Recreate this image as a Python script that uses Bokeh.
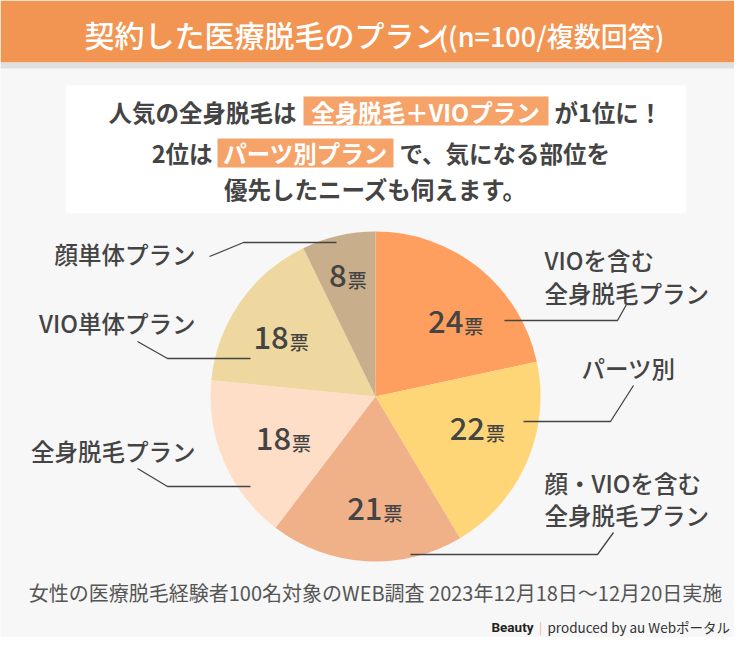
import numpy as np
from bokeh.plotting import figure
from bokeh.models import Range1d, ColumnDataSource
from bokeh.core.properties import value
from bokeh.embed import file_html
from bokeh.resources import INLINE

# ---- data ----
plans = ["VIOを含む全身脱毛プラン", "パーツ別", "顔・VIOを含む全身脱毛プラン",
         "全身脱毛プラン", "VIO単体プラン", "顔単体プラン"]
votes = [24, 22, 21, 18, 18, 8]
unit = "票"
title_main = "契約した医療脱毛のプラン"
title_sub = "((n=100/複数回答)"
note = "女性の医療脱毛経験者100名対象のWEB調査 2023年12月18日～12月20日実施"

# ---- styles ----
colors = ["#FF9F5F", "#FFD677", "#F0B088", "#FFDEC8", "#EED8A0", "#C9AE8B"]
FONT = value("Noto Sans CJK JP")
MED = value("Noto Sans CJK JP Medium")
DARK = "#444444"
W, H = 750, 653

def Y(y):
    return H - y

p = figure(width=734, height=637, x_range=Range1d(0, 734), y_range=Range1d(16, 653),
           output_backend="svg", toolbar_location=None, min_border=0)
p.axis.visible = False
p.grid.visible = False
p.outline_line_color = None
p.background_fill_color = "#F7F7F7"
p.border_fill_color = "#F7F7F7"

# header
p.quad(left=0, right=W, top=Y(0), bottom=Y(62), fill_color="#F39552", line_color=None)
p.quad(left=0, right=W, top=Y(62), bottom=Y(68), fill_color="#E2E0DE", line_color=None)
p.text(x=[84], y=[Y(33)], text=[title_main], text_font=MED,
       text_font_size="30px", text_color="white", text_align="left", text_baseline="middle")
p.text(x=[438], y=[Y(35)], text=[title_sub], text_font=MED,
       text_font_size="27px", text_color="white", text_align="left", text_baseline="middle")

# headline box
p.quad(left=65, right=686, top=Y(85), bottom=Y(213), fill_color="white", line_color=None)
HL = "#F6A36A"
hs = dict(text_font=FONT, text_font_style="bold", text_font_size="23.5px", text_baseline="middle")
# line 1
p.quad(left=303, right=548, top=Y(96), bottom=Y(125), fill_color=HL, line_color=None)
p.text(x=[296], y=[Y(111)], text=["人気の全身脱毛は"], text_color=DARK, text_align="right", **hs)
p.text(x=[425], y=[Y(111)], text=["全身脱毛＋VIOプラン"], text_color="white", text_align="center", **hs)
p.text(x=[554], y=[Y(111)], text=["が1位に！"], text_color=DARK, text_align="left", **hs)
# line 2
p.quad(left=217, right=393, top=Y(138), bottom=Y(167), fill_color=HL, line_color=None)
p.text(x=[212], y=[Y(152)], text=["2位は"], text_color=DARK, text_align="right", **hs)
p.text(x=[305], y=[Y(152)], text=["パーツ別プラン"], text_color="white", text_align="center", **hs)
p.text(x=[399], y=[Y(152)], text=["で、気になる部位を"], text_color=DARK, text_align="left", **hs)
# line 3
p.text(x=[375], y=[Y(188)], text=["優先したニーズも伺えます。"], text_color=DARK, text_align="center", **hs)

# pie
cx, cy, R = 375, 396, 165
total = sum(votes)
fr = np.cumsum([0] + votes) / total
start = np.pi / 2 - fr[:-1] * 2 * np.pi
end = np.pi / 2 - fr[1:] * 2 * np.pi
src = ColumnDataSource(dict(start=start, end=end, color=colors, plan=plans, votes=votes))
p.wedge(x=cx, y=Y(cy), radius=R, start_angle="start", end_angle="end", direction="clock",
        fill_color="color", line_color=None, source=src)

# value labels
label_r = np.array([110, 107, 112, 101, 111, 124])
nudge = np.radians([8, -6, -3, -1, -3, 0])
mid = (fr[:-1] + fr[1:]) / 2 * 2 * np.pi + nudge
lx = cx + label_r * np.sin(mid)
ly = Y(cy) + label_r * np.cos(mid)
nums = [str(v) for v in votes]
off = np.array([(len(s) * 17 - 19) / 2 for s in nums])
p.text(x=lx + off, y=ly, text=nums, text_font=MED,
       text_font_size="31px", text_color=DARK, text_align="right", text_baseline="middle")
p.text(x=lx + off + 1, y=ly - 4, text=[unit] * len(votes), text_font=MED,
       text_font_size="19px", text_color=DARK, text_align="left", text_baseline="middle")

# leader lines
xs = [[504, 617, 626], [523, 610, 633], [410, 597, 613],
      [250, 167, 137], [250, 167, 137], [336, 243, 209]]
ys = [[320, 320, 304], [421, 421, 385], [554, 554, 532],
      [486, 486, 468], [358, 358, 341], [242, 242, 256]]
p.multi_line(xs=xs, ys=[[Y(v) for v in yy] for yy in ys], line_color=DARK, line_width=1.3)

# category labels
ls = dict(text_font=MED, text_font_size="23.5px", text_color=DARK, text_baseline="middle")
p.text(x=[544, 544], y=[Y(259), Y(292)], text=["VIOを含む", "全身脱毛プラン"], text_align="left", **ls)
p.text(x=[581], y=[Y(367)], text=[plans[1]], text_align="left", **ls)
p.text(x=[544, 544], y=[Y(482), Y(514)], text=["顔・VIOを含む", "全身脱毛プラン"], text_align="left", **ls)
p.text(x=[195, 195, 195], y=[Y(450), Y(322), Y(253)], text=[plans[3], plans[4], plans[5]],
       text_align="right", **ls)

# footer
p.text(x=[375], y=[Y(592)], text=[note], text_font=FONT, text_font_size="20px",
       text_color="#555555", text_align="center", text_baseline="middle")
p.text(x=[533], y=[Y(626)], text=["Beauty"], text_font=value("Roboto"), text_font_style="bold",
       text_font_size="13.5px", text_color="#222222", text_align="right", text_baseline="middle")
p.text(x=[540], y=[Y(626)], text=["|"], text_font=FONT, text_font_size="12px",
       text_color="#F3B27F", text_align="center", text_baseline="middle")
p.text(x=[547], y=[Y(626)], text=["produced by au Webポータル"], text_font=FONT,
       text_font_size="13.5px", text_color="#333333", text_align="left", text_baseline="middle")

open("out.html", "w").write(file_html(p, INLINE))
